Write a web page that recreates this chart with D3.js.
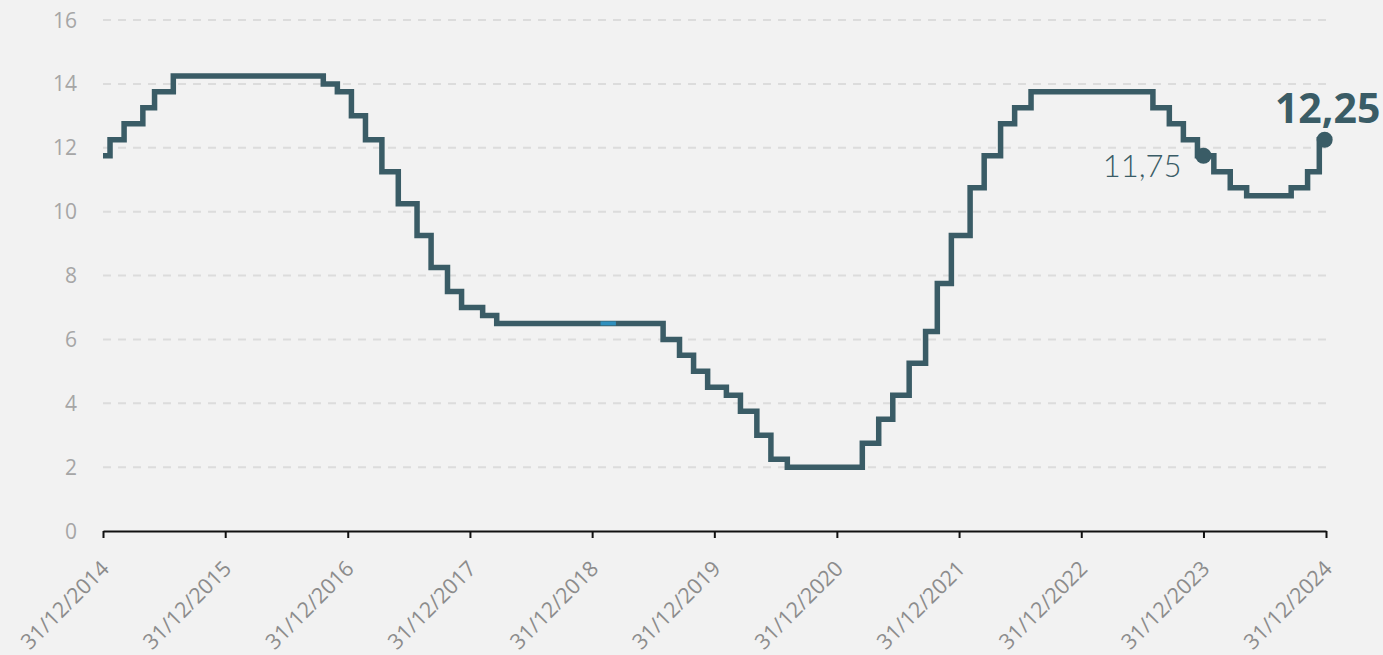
<!DOCTYPE html>
<html>
<head>
<meta charset="utf-8">
<script src="https://cdn.jsdelivr.net/npm/d3@7"></script>
<style>
  html, body { margin: 0; padding: 0; background: #f2f2f2; }
  svg { display: block; }
  .grid line { stroke: #dcdcdc; stroke-width: 2; stroke-dasharray: 8,7; }
  .y-label { font-family: "Open Sans", sans-serif; font-size: 21px; fill: #a6a6a6; }
  .x-label { font-family: "Open Sans", sans-serif; font-size: 21.5px; fill: #8c8c8c; }
</style>
</head>
<body>
<svg id="chart" width="1383" height="655"></svg>
<script>
// Selic steps: date of change and new rate
var stepDates = [
  '2014-12-31', '2015-01-21', '2015-03-04', '2015-04-29', '2015-06-03', '2015-07-29',
  '2016-10-19', '2016-11-30', '2017-01-11', '2017-02-22', '2017-04-12', '2017-05-31',
  '2017-07-26', '2017-09-06', '2017-10-25', '2017-12-06', '2018-02-07', '2018-03-21',
  '2019-07-31', '2019-09-18', '2019-10-30', '2019-12-11', '2020-02-05', '2020-03-18',
  '2020-05-06', '2020-06-17', '2020-08-05', '2021-03-17', '2021-05-05', '2021-06-16',
  '2021-08-04', '2021-09-22', '2021-10-27', '2021-12-08', '2022-02-02', '2022-03-16',
  '2022-05-04', '2022-06-15', '2022-08-03', '2023-08-02', '2023-09-20', '2023-11-01',
  '2023-12-13', '2024-01-31', '2024-03-20', '2024-05-08', '2024-09-18', '2024-11-06',
  '2024-12-11', '2024-12-27'
];
var stepRates = [
  11.75, 12.25, 12.75, 13.25, 13.75, 14.25,
  14.00, 13.75, 13.00, 12.25, 11.25, 10.25,
  9.25, 8.25, 7.50, 7.00, 6.75, 6.50,
  6.00, 5.50, 5.00, 4.50, 4.25, 3.75,
  3.00, 2.25, 2.00, 2.75, 3.50, 4.25,
  5.25, 6.25, 7.75, 9.25, 10.75, 11.75,
  12.75, 13.25, 13.75, 13.25, 12.75, 12.25,
  11.75, 11.25, 10.75, 10.50, 10.75, 11.25,
  12.25, 12.25
];

// small highlighted piece of the line
var highlightDates = ['2019-01-25', '2019-03-12'];
var highlightRate = 6.50;

// marked points
var markDates = ['2023-12-31', '2024-12-27'];
var markRates = [11.75, 12.25];
var markLabels = ['11,75', '12,25'];

var tickDates = ['2014-12-31', '2015-12-31', '2016-12-31', '2017-12-31', '2018-12-31',
  '2019-12-31', '2020-12-31', '2021-12-31', '2022-12-31', '2023-12-31', '2024-12-31'];
var tickLabels = ['31/12/2014', '31/12/2015', '31/12/2016', '31/12/2017', '31/12/2018',
  '31/12/2019', '31/12/2020', '31/12/2021', '31/12/2022', '31/12/2023', '31/12/2024'];
var yTicks = [0, 2, 4, 6, 8, 10, 12, 14, 16];

function drawChart() {
  var parse = d3.timeParse('%Y-%m-%d');
  var lineColor = '#3a5c66';

  var svg = d3.select('#chart');
  var mLeft = 103, mRight = 1326, mTop = 20, mBottom = 531;

  var x = d3.scaleTime()
    .domain([parse(tickDates[0]), parse(tickDates[tickDates.length - 1])])
    .range([mLeft, mRight]);
  var y = d3.scaleLinear().domain([0, 16]).range([mBottom, mTop]);

  // grid
  svg.append('g')
    .attr('class', 'grid')
    .selectAll('line')
    .data(yTicks.slice(1))
    .enter()
    .append('line')
    .attr('x1', mLeft)
    .attr('x2', mRight)
    .attr('y1', function(d) { return y(d); })
    .attr('y2', function(d) { return y(d); });

  // y labels
  svg.append('g')
    .selectAll('text')
    .data(yTicks)
    .enter()
    .append('text')
    .attr('class', 'y-label')
    .attr('x', 77)
    .attr('y', function(d) { return y(d); })
    .attr('dy', '0.36em')
    .attr('text-anchor', 'end')
    .text(function(d) { return d; });

  // x axis
  var xAxis = d3.axisBottom(x)
    .tickValues(tickDates.map(parse))
    .tickSize(7)
    .tickSizeOuter(0)
    .tickFormat(function(d, i) { return tickLabels[i]; });

  var ax = svg.append('g')
    .attr('transform', 'translate(0,' + mBottom + ')')
    .call(xAxis);
  ax.select('.domain').attr('stroke', '#111').attr('stroke-width', 2);
  ax.selectAll('.tick line').attr('stroke', '#111').attr('stroke-width', 2);
  ax.selectAll('.tick text')
    .attr('class', 'x-label')
    .attr('text-anchor', 'end')
    .attr('x', 0)
    .attr('y', 0)
    .attr('dy', 0)
    .attr('transform', 'translate(7,39) rotate(-45)');

  // step line
  var pts = stepDates.map(function(d, i) { return [parse(d), stepRates[i]]; });
  var line = d3.line()
    .x(function(d) { return x(d[0]); })
    .y(function(d) { return y(d[1]); })
    .curve(d3.curveStepAfter);

  svg.append('path')
    .datum(pts)
    .attr('d', line)
    .attr('fill', 'none')
    .attr('stroke', lineColor)
    .attr('stroke-width', 5.5)
    .attr('stroke-linejoin', 'miter');

  svg.append('line')
    .attr('x1', x(parse(highlightDates[0])))
    .attr('x2', x(parse(highlightDates[1])))
    .attr('y1', y(highlightRate))
    .attr('y2', y(highlightRate))
    .attr('stroke', '#2f8fbd')
    .attr('stroke-width', 4);

  // marks
  svg.append('g')
    .selectAll('circle')
    .data(markDates)
    .enter()
    .append('circle')
    .attr('cx', function(d) { return x(parse(d)); })
    .attr('cy', function(d, i) { return y(markRates[i]); })
    .attr('r', 8)
    .attr('fill', lineColor);

  svg.append('text')
    .attr('x', x(parse(markDates[0])) - 22)
    .attr('y', y(markRates[0]) + 21)
    .attr('text-anchor', 'end')
    .style('font-family', 'Lato, sans-serif')
    .style('font-weight', 300)
    .style('font-size', '31px')
    .attr('fill', lineColor)
    .text(markLabels[0]);

  svg.append('text')
    .attr('x', x(parse(markDates[1])) + 3)
    .attr('y', y(markRates[1]) - 17)
    .attr('text-anchor', 'middle')
    .style('font-family', '"Open Sans", sans-serif')
    .style('font-weight', 700)
    .style('font-size', '41px')
    .attr('fill', lineColor)
    .text(markLabels[1]);
}

drawChart();
</script>
</body>
</html>
